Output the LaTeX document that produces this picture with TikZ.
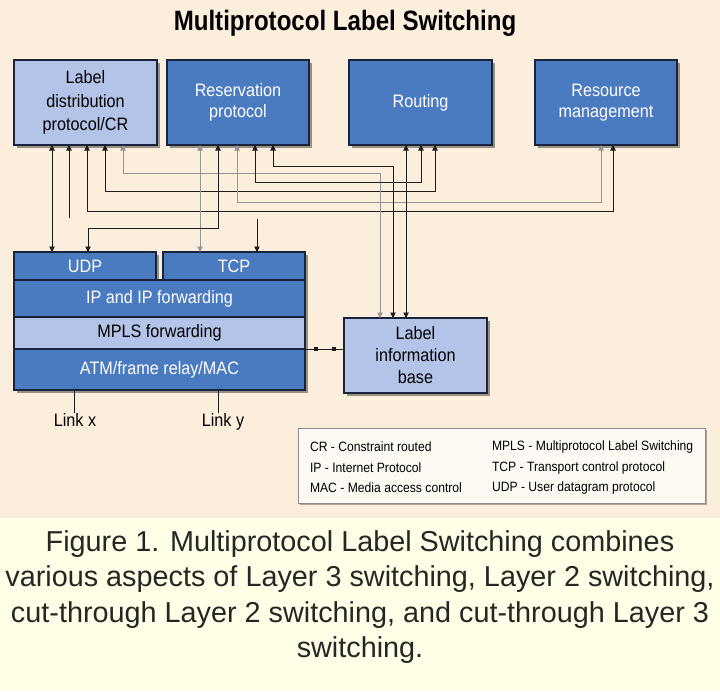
\documentclass[tikz,border=0pt]{standalone}
\usepackage{fontspec}
\setmainfont{Liberation Sans}
\newfontfamily\condf[FakeStretch=0.9]{Liberation Sans}
\newfontfamily\titlef[FakeStretch=0.86]{Liberation Sans}
\usetikzlibrary{arrows.meta,shadows,decorations.markings,calc}
\definecolor{bgpeach}{RGB}{252,238,221}
\definecolor{bgcap}{RGB}{255,255,232}
\definecolor{mpblue}{RGB}{74,122,192}
\definecolor{mplight}{RGB}{180,196,232}
\definecolor{mpedge}{RGB}{25,35,60}
\definecolor{legbg}{RGB}{252,250,243}
\definecolor{lnblack}{RGB}{30,30,30}
\definecolor{lngray}{RGB}{150,150,150}
\newcommand{\boxfont}{\condf\fontsize{18}{21}\selectfont}
\newcommand{\ldpfont}{\condf\fontsize{18}{23.5}\selectfont}
\newcommand{\libfont}{\condf\fontsize{18}{22}\selectfont}
\newcommand{\legfont}{\condf\fontsize{13.5}{15}\selectfont}
\begin{document}
\begin{tikzpicture}[x=1pt,y=-1pt,
  every node/.style={inner sep=0pt, outer sep=0pt},
  boxbase/.style={draw=mpedge, line width=1.1pt, anchor=north west, align=center,
    drop shadow={shadow xshift=2.5pt, shadow yshift=-2.5pt, fill=black, opacity=0.4}},
  darkbox/.style={boxbase, fill=mpblue, text=white},
  lightbox/.style={boxbase, fill=mplight, text=black},
  tip/.tip={Triangle[length=5.5pt,width=5.5pt]},
  conn/.style={draw=lnblack, line width=0.9pt, {tip}-{tip}},
  conng/.style={draw=lngray, line width=0.9pt, {tip}-{tip}},
  sq/.style={postaction={decorate}, decoration={markings,
    mark=at position 0.27 with {\fill[lnblack] (-2pt,-2pt) rectangle (2pt,2pt);},
    mark=at position 0.74 with {\fill[lnblack] (-2pt,-2pt) rectangle (2pt,2pt);}}}
]
\useasboundingbox (0,0) rectangle (720,691);
\fill[bgpeach] (0,0) rectangle (720,518);
\fill[bgcap] (0,518) rectangle (720,691);

% title
\node[font=\titlef\bfseries\fontsize{28}{30}\selectfont] (title) at (345,23) {Multiprotocol Label Switching};

% top boxes
\node[lightbox, minimum width=143pt, minimum height=85pt, font=\ldpfont] (ldp) at (14,60) {Label\\distribution\\protocol/CR};
\node[darkbox, minimum width=142pt, minimum height=85pt, font=\boxfont] (rsv) at (167,60) {Reservation\\protocol};
\node[darkbox, minimum width=143pt, minimum height=85pt, font=\boxfont] (rt) at (349,60) {Routing};
\node[darkbox, minimum width=142pt, minimum height=85pt, font=\boxfont] (rm) at (535,60) {Resource\\management};

% protocol stack
\node[darkbox, minimum width=142pt, minimum height=28pt, font=\boxfont] (udp) at (14,252) {UDP};
\node[darkbox, minimum width=142pt, minimum height=28pt, font=\boxfont] (tcp) at (163,252) {TCP};
\node[darkbox, minimum width=291pt, minimum height=37pt, font=\boxfont] (ip) at (14,280) {IP and IP forwarding};
\node[lightbox, minimum width=291pt, minimum height=32pt, font=\boxfont] (mpls) at (14,317) {MPLS forwarding};
\node[darkbox, minimum width=291pt, minimum height=41pt, font=\boxfont] (atm) at (14,349) {ATM/frame relay/MAC};
\draw[mpedge, line width=2.2pt] (mpls.south west) -- (mpls.south east);

% label information base
\node[lightbox, minimum width=143pt, minimum height=75pt, font=\libfont] (lib) at (344,318) {Label\\information\\base};

% ports
\coordinate (L1) at ([xshift=38pt]ldp.south west);
\coordinate (L2) at ([xshift=55pt]ldp.south west);
\coordinate (L3) at ([xshift=73pt]ldp.south west);
\coordinate (L4) at ([xshift=91pt]ldp.south west);
\coordinate (L5) at ([xshift=109pt]ldp.south west);
\coordinate (R1) at ([xshift=33pt]rsv.south west);
\coordinate (R2) at ([xshift=51pt]rsv.south west);
\coordinate (R3) at ([xshift=70pt]rsv.south west);
\coordinate (R4) at ([xshift=88pt]rsv.south west);
\coordinate (R5) at ([xshift=106pt]rsv.south west);
\coordinate (T1) at ([xshift=57pt]rt.south west);
\coordinate (T2) at ([xshift=72pt]rt.south west);
\coordinate (T3) at ([xshift=86pt]rt.south west);
\coordinate (M1) at ([xshift=66pt]rm.south west);
\coordinate (M2) at ([xshift=78pt]rm.south west);
\coordinate (U1) at ([xshift=38pt]udp.north west);
\coordinate (U2) at ([xshift=74pt]udp.north west);
\coordinate (C1) at ([xshift=37pt]tcp.north west);
\coordinate (C2) at ([xshift=94pt]tcp.north west);
\coordinate (B1) at ([xshift=36pt]lib.north west);
\coordinate (B2) at ([xshift=49pt]lib.north west);
\coordinate (B3) at ([xshift=62pt]lib.north west);

% levels and free ends
\coordinate (h166) at (0,166);
\coordinate (h173) at (0,173);
\coordinate (h182) at (0,182);
\coordinate (h191) at (0,191);
\coordinate (h202) at (0,202);
\coordinate (h211) at (0,211);
\coordinate (h228) at (0,228);
\coordinate (stubA) at (69,218);
\coordinate (stubB) at (257,219);

% connectors
\draw[conn] (L1) -- (U1);
\draw[draw=lnblack, line width=0.9pt, {tip}-] (L2) -- (stubA);
\draw[conn] (L3) -- (L3 |- h211) -- (M2 |- h211) -- (M2);
\draw[conn] (L4) -- (L4 |- h191) -- (T3 |- h191) -- (T3);
\draw[conng] (L5) -- (L5 |- h173) -- (B1 |- h173) -- (B1);
\draw[conng] (R1) -- (C1);
\draw[conn] (R2) -- (R2 |- h228) -- (U2 |- h228) -- (U2);
\draw[conng] (R3) -- (R3 |- h202) -- (M1 |- h202) -- (M1);
\draw[conn] (R4) -- (R4 |- h182) -- (T2 |- h182) -- (T2);
\draw[conn] (R5) -- (R5 |- h166) -- (B2 |- h166) -- (B2);
\draw[conn] (T1) -- (B3);
\draw[draw=lnblack, line width=0.9pt, -{tip}] (stubB) -- (C2);

% stack to LIB
\draw[draw=lnblack, line width=0.9pt, sq] (atm.north east) -- (atm.north east -| lib.west);

% links
\node[font=\boxfont, anchor=north] (lx) at (75,413) {Link x};
\node[font=\boxfont, anchor=north] (ly) at (223,413) {Link y};
\coordinate (ax) at ([xshift=60pt]atm.south west);
\coordinate (ay) at ([xshift=204pt]atm.south west);
\draw[lnblack, line width=0.9pt] (ax) -- (ax |- lx.north);
\draw[lnblack, line width=0.9pt] (ay) -- (ay |- ly.north);

% legend
\node[draw=black!45, line width=0.8pt, fill=legbg, minimum width=407pt, minimum height=75pt, anchor=north west,
  drop shadow={shadow xshift=2pt, shadow yshift=-2pt, fill=black, opacity=0.3}] (leg) at (298,428) {};
\node[font=\legfont, anchor=west] (lg1) at (310,447) {CR - Constraint routed};
\node[font=\legfont, anchor=west] (lg2) at (310,468) {IP - Internet Protocol};
\node[font=\legfont, anchor=west] (lg3) at (310,488) {MAC - Media access control};
\node[font=\legfont, anchor=west] (lg4) at (492,447) {MPLS - Multiprotocol Label Switching};
\node[font=\legfont, anchor=west] (lg5) at (492,468) {TCP - Transport control protocol};
\node[font=\legfont, anchor=west] (lg6) at (492,488) {UDP - User datagram protocol};

% caption
\node[font=\fontsize{28.8}{35.5}\selectfont, align=center, text=black!85] (cap) at (360,597)
  {Figure 1. Multiprotocol Label Switching combines\\various aspects of Layer 3 switching, Layer 2 switching,\\cut-through Layer 2 switching, and cut-through Layer 3\\switching.};
\end{tikzpicture}
\end{document}
